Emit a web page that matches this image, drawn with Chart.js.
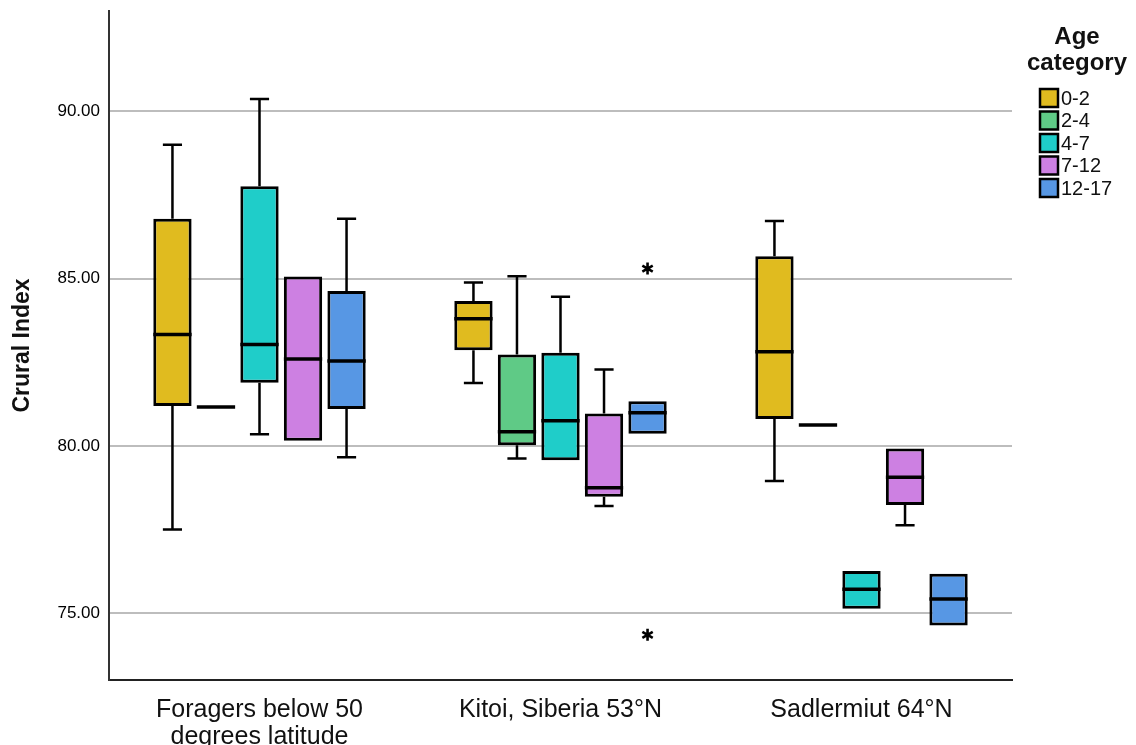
<!DOCTYPE html>
<html>
<head>
<meta charset="utf-8">
<title>Crural Index by age category</title>
<script src="https://cdn.jsdelivr.net/npm/chart.js@4.4.0/dist/chart.umd.min.js"></script>
<style>
    html, body { margin: 0; padding: 0; background: #fff; }
</style>
</head>
<body>
<canvas id="chart" width="1136" height="745"></canvas>
<script>
const sites = [['Foragers below 50', 'degrees latitude'], 'Kitoi, Siberia 53°N', 'Sadlermiut 64°N'];
const ageCategories = ['0-2', '2-4', '4-7', '7-12', '12-17'];
const ageColors = ['#E0BB1F', '#5FCA86', '#1FCDC9', '#CD80E2', '#5797E4'];
const yTicks = [75, 80, 85, 90];

// one row per age category, one column per site
const whiskerLow = [
    [77.5, 81.88, 78.95],
    [81.16, 79.62, 80.62],
    [80.35, 79.57, 75.13],
    [80.15, 78.2, 77.63],
    [79.66, 80.36, 74.63]
];
const boxLow = [
    [81.19, 82.86, 80.8],
    [81.16, 80.02, 80.62],
    [81.89, 79.57, 75.13],
    [80.15, 78.48, 78.23],
    [81.1, 80.36, 74.63]
];
const median = [
    [83.33, 83.8, 82.81],
    [81.16, 80.42, 80.62],
    [83.03, 80.75, 75.71],
    [82.6, 78.75, 79.06],
    [82.54, 80.99, 75.42]
];
const boxHigh = [
    [86.79, 84.33, 85.67],
    [81.16, 82.73, 80.62],
    [87.76, 82.78, 76.26],
    [85.06, 80.97, 79.92],
    [84.63, 81.33, 76.18]
];
const whiskerHigh = [
    [89.0, 84.88, 86.72],
    [81.16, 85.07, 80.62],
    [90.37, 84.46, 76.26],
    [85.06, 82.28, 79.92],
    [86.79, 81.33, 76.18]
];
const outliers = [
    [[], [], []],
    [[], [], []],
    [[], [], []],
    [[], [], []],
    [[], [85.3, 74.35], []]
];

const FONT = "'Liberation Sans', Arial, sans-serif";

// whiskers, medians and outlier stars, placed with the chart's own scales
const boxParts = {
    id: 'boxParts',
    afterDatasetsDraw(chart) {
        const ctx = chart.ctx;
        const y = chart.scales.y;
        ctx.save();
        ctx.strokeStyle = '#000';
        ctx.lineCap = 'butt';
        chart.data.datasets.forEach((ds, d) => {
            const meta = chart.getDatasetMeta(d);
            meta.data.forEach((bar, i) => {
                const { x, width } = bar.getProps(['x', 'width'], true);
                const cap = width / 4;

                ctx.lineWidth = 2.5;
                if (whiskerHigh[d][i] > boxHigh[d][i]) {
                    const top = y.getPixelForValue(whiskerHigh[d][i]);
                    ctx.beginPath();
                    ctx.moveTo(x, y.getPixelForValue(boxHigh[d][i]));
                    ctx.lineTo(x, top);
                    ctx.moveTo(x - cap, top);
                    ctx.lineTo(x + cap, top);
                    ctx.stroke();
                }
                if (whiskerLow[d][i] < boxLow[d][i]) {
                    const bottom = y.getPixelForValue(whiskerLow[d][i]);
                    ctx.beginPath();
                    ctx.moveTo(x, y.getPixelForValue(boxLow[d][i]));
                    ctx.lineTo(x, bottom);
                    ctx.moveTo(x - cap, bottom);
                    ctx.lineTo(x + cap, bottom);
                    ctx.stroke();
                }

                ctx.lineWidth = 3.5;
                const my = y.getPixelForValue(median[d][i]);
                ctx.beginPath();
                ctx.moveTo(x - width / 2, my);
                ctx.lineTo(x + width / 2, my);
                ctx.stroke();

                ctx.lineWidth = 2.6;
                outliers[d][i].forEach(v => {
                    const oy = y.getPixelForValue(v);
                    const r = 6;
                    ctx.beginPath();
                    for (let k = 0; k < 3; k++) {
                        const a = Math.PI / 2 + k * Math.PI / 3;
                        ctx.moveTo(x - r * Math.cos(a), oy - r * Math.sin(a));
                        ctx.lineTo(x + r * Math.cos(a), oy + r * Math.sin(a));
                    }
                    ctx.stroke();
                });
            });
        });
        ctx.restore();
    }
};

// legend block on the right: two-line bold title and square swatches
const ageLegend = {
    id: 'ageLegend',
    afterDraw(chart) {
        const ctx = chart.ctx;
        ctx.save();
        ctx.fillStyle = '#111';
        ctx.textAlign = 'center';
        ctx.textBaseline = 'middle';
        ctx.font = `bold 24px ${FONT}`;
        ctx.fillText('Age', 1077, 37);
        ctx.fillText('category', 1077, 63);

        ctx.font = `20px ${FONT}`;
        ctx.textAlign = 'left';
        ageCategories.forEach((label, i) => {
            const cy = 98 + i * 22.5;
            ctx.fillStyle = ageColors[i];
            ctx.fillRect(1040, cy - 9, 18, 18);
            ctx.lineWidth = 2.5;
            ctx.strokeStyle = '#000';
            ctx.strokeRect(1040, cy - 9, 18, 18);
            ctx.fillStyle = '#111';
            ctx.fillText(label, 1061, cy + 1);
        });
        ctx.restore();
    }
};

const ctx = document.getElementById('chart').getContext('2d');
new Chart(ctx, {
    type: 'bar',
    data: {
        labels: sites,
        datasets: ageCategories.map((label, d) => ({
            label: label,
            data: sites.map((s, i) => [boxLow[d][i], boxHigh[d][i]]),
            backgroundColor: ageColors[d],
            borderColor: '#000',
            borderWidth: 3,
            borderSkipped: false,
            barPercentage: 0.88,
            categoryPercentage: 0.723
        }))
    },
    options: {
        responsive: false,
        animation: false,
        layout: { padding: { top: 11, right: 124, left: 0, bottom: 0 } },
        scales: {
            x: {
                afterFit: scale => { scale.height = 65; },
                grid: { display: false },
                border: { display: true, color: '#222', width: 2 },
                ticks: {
                    color: '#111',
                    padding: 9,
                    maxRotation: 0,
                    autoSkip: false,
                    font: { family: FONT, size: 25, lineHeight: 1.08 }
                }
            },
            y: {
                min: 73,
                max: 93,
                afterBuildTicks: axis => { axis.ticks = yTicks.map(v => ({ value: v })); },
                afterFit: scale => {
                    scale.width = 109;
                    scale.paddingTop = 0;
                    scale.paddingBottom = 0;
                },
                grid: { color: '#BDBDBD', lineWidth: 2, drawTicks: false },
                border: { display: true, color: '#333', width: 2 },
                ticks: {
                    color: '#000',
                    padding: 9,
                    font: { family: FONT, size: 17 },
                    callback: v => v.toFixed(2)
                },
                title: {
                    display: true,
                    text: 'Crural Index',
                    color: '#111',
                    padding: { top: 9, bottom: 0 },
                    font: { family: FONT, size: 23, weight: 'bold' }
                }
            }
        },
        plugins: {
            legend: { display: false },
            tooltip: { enabled: false }
        }
    },
    plugins: [boxParts, ageLegend]
});
</script>
</body>
</html>
